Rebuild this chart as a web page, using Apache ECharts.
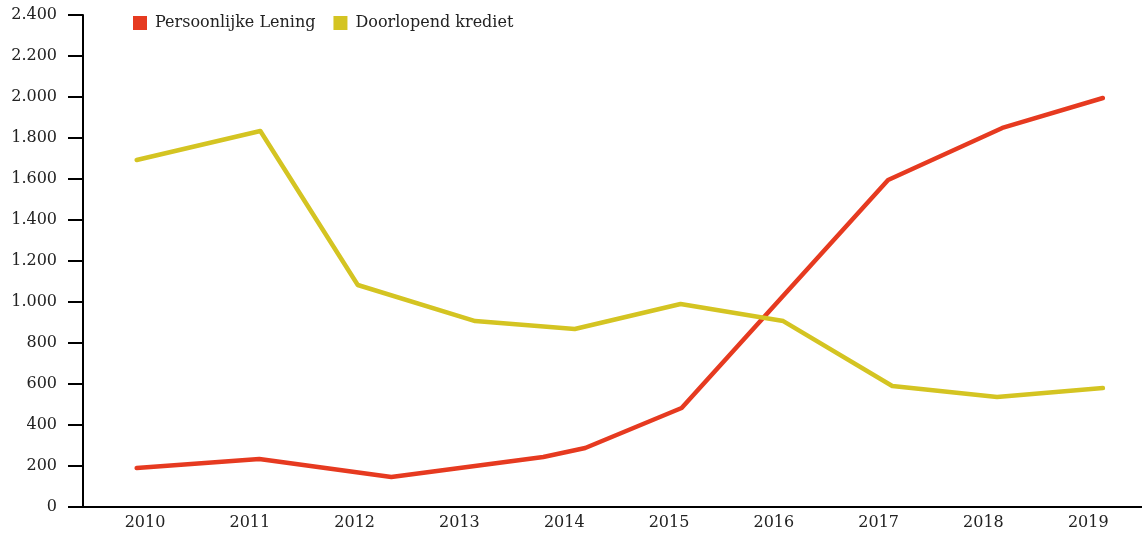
<!DOCTYPE html>
<html>
<head>
<meta charset="utf-8">
<script src="https://cdn.jsdelivr.net/npm/echarts@6/dist/echarts.min.js"></script>
<style>
html,body{margin:0;padding:0;background:#fff;}
#c{width:1142px;height:535px;}
</style>
</head>
<body>
<div id="c"></div>
<script>
var yearTicks = [2010, 2011, 2012, 2013, 2014, 2015, 2016, 2017, 2018, 2019];
var yTicks = [0, 200, 400, 600, 800, 1000, 1200, 1400, 1600, 1800, 2000, 2200, 2400];
var seriesNames = ['Persoonlijke Lening', 'Doorlopend krediet'];

var leningX = [2009.92, 2011.09, 2012.35, 2013.80, 2014.20, 2015.12, 2017.09, 2018.18, 2019.14];
var leningY = [190, 234, 146, 244, 288, 483, 1595, 1849, 1995];

var kredietX = [2009.92, 2011.10, 2012.03, 2013.15, 2014.10, 2015.11, 2016.09, 2017.13, 2018.13, 2019.14];
var kredietY = [1693, 1834, 1083, 907, 868, 990, 907, 590, 537, 580];

function pairs(xs, ys) { return xs.map(function (x, i) { return [x, ys[i]]; }); }
function fmt(v) { return String(v).replace(/\B(?=(\d{3})+(?!\d))/g, '.'); }

var FONT = 'DejaVu Serif';
var chart = echarts.init(document.getElementById('c'), null, { renderer: 'canvas' });
chart.setOption({
  animation: false,
  backgroundColor: '#ffffff',
  textStyle: { fontFamily: FONT },
  legend: {
    left: 128, top: 10,
    icon: 'rect', itemWidth: 14, itemHeight: 14, itemGap: 18,
    textStyle: { fontFamily: FONT, fontSize: 16, color: '#222', padding: [0, 0, 0, 3] },
    data: seriesNames
  },
  grid: { left: 83, right: 0, top: 15, bottom: 28, containLabel: false },
  xAxis: {
    type: 'value',
    min: 2009.408, max: 2019.513,
    axisLine: { show: true, lineStyle: { color: '#000', width: 2 } },
    axisTick: { show: false },
    splitLine: { show: false },
    axisLabel: {
      customValues: yearTicks,
      formatter: function (v) { return String(v); },
      fontFamily: FONT, fontSize: 16, color: '#222', margin: 8
    }
  },
  yAxis: {
    type: 'value',
    min: yTicks[0], max: yTicks[yTicks.length - 1], interval: 200,
    axisLine: { show: true, lineStyle: { color: '#000', width: 2 } },
    axisTick: { show: true, length: 15, lineStyle: { color: '#000', width: 2 } },
    splitLine: { show: false },
    axisLabel: {
      formatter: function (v) { return fmt(v); },
      fontFamily: FONT, fontSize: 16, color: '#222', margin: 26
    }
  },
  series: [
    {
      name: seriesNames[0], type: 'line', data: pairs(leningX, leningY),
      showSymbol: false, symbol: 'none',
      itemStyle: { color: '#E63A20' },
      lineStyle: { color: '#E63A20', width: 4.5, cap: 'round', join: 'round' }
    },
    {
      name: seriesNames[1], type: 'line', data: pairs(kredietX, kredietY),
      showSymbol: false, symbol: 'none',
      itemStyle: { color: '#D4C422' },
      lineStyle: { color: '#D4C422', width: 4.5, cap: 'round', join: 'round' }
    }
  ]
});
</script>
</body>
</html>
